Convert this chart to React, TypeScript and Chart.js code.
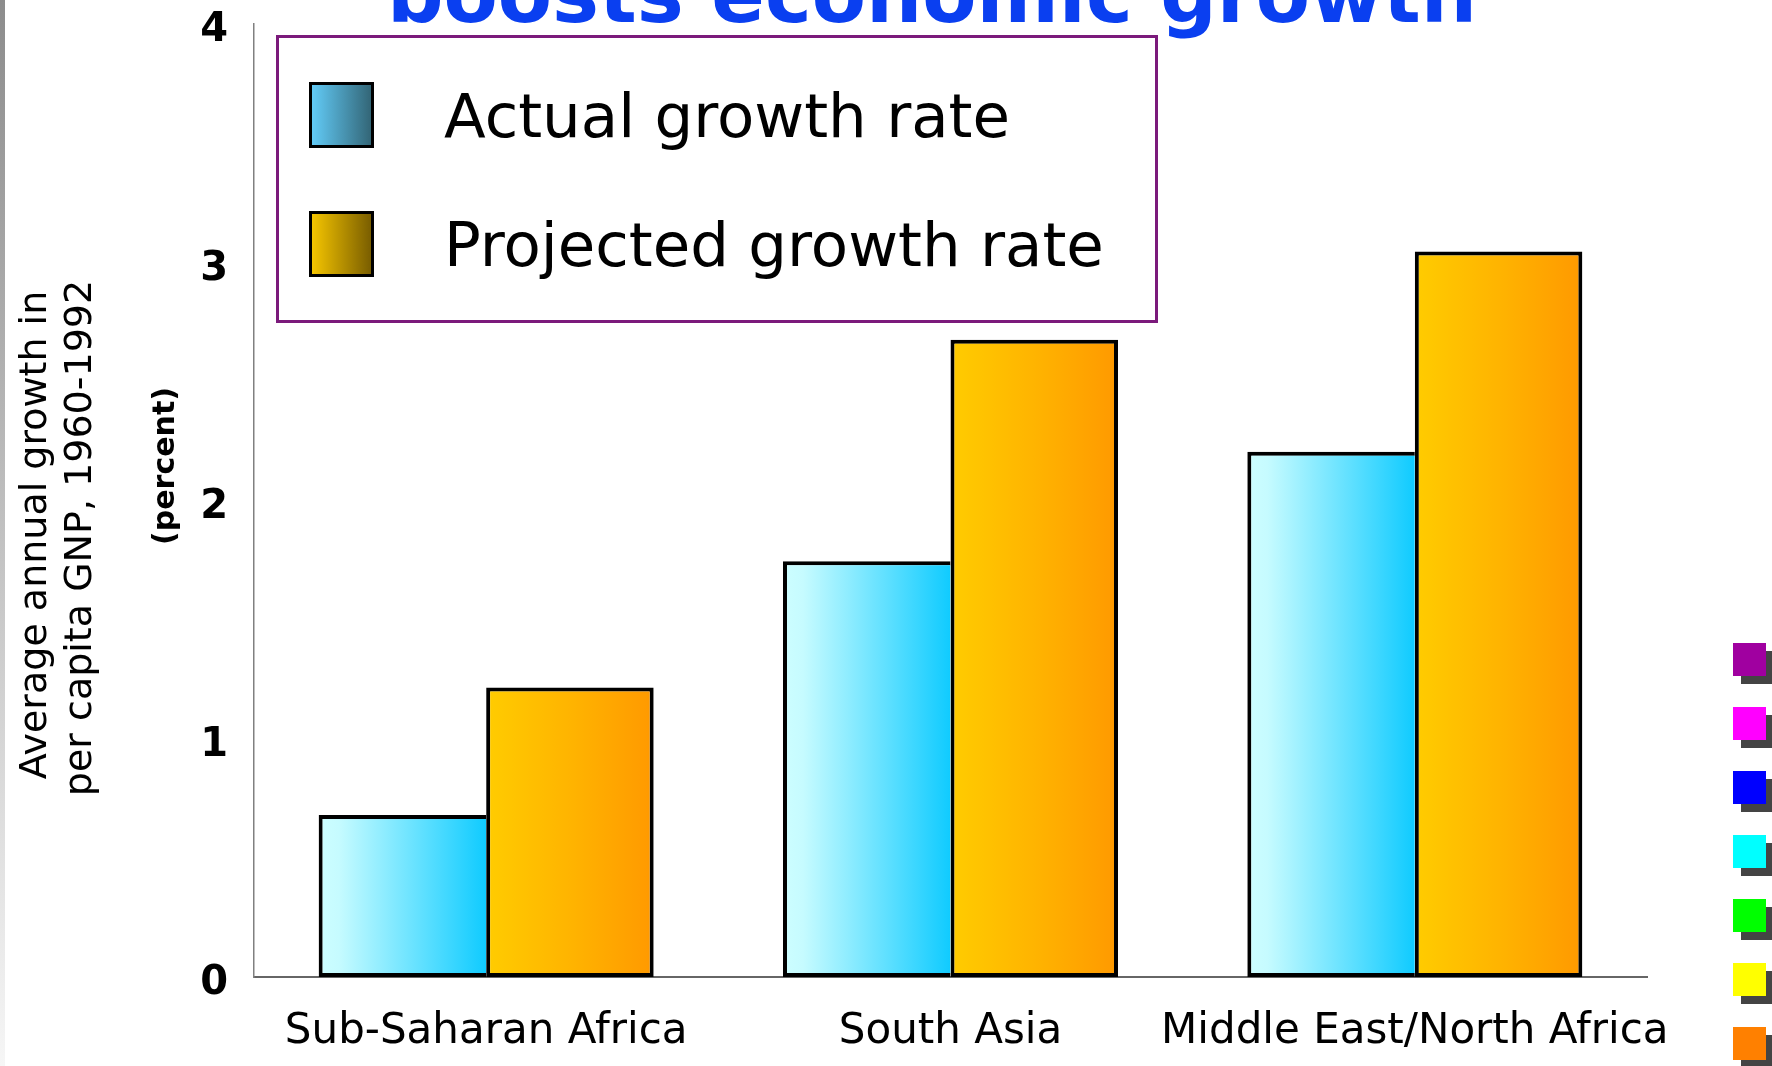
import React, { useEffect, useRef } from "react";
import { Chart, registerables } from "chart.js";

Chart.register(...registerables);

// ---------- data ----------
const categories = ["Sub-Saharan Africa", "South Asia", "Middle East/North Africa"];
const actualGrowth = [0.68, 1.745, 2.205];
const projectedGrowth = [1.215, 2.675, 3.045];
const seriesLabels = ["Actual growth rate", "Projected growth rate"];
const yMin = 0;
const yMax = 4;
const yStep = 1;
const yTitleLines = ["Average annual growth in", "per capita GNP, 1960-1992"];
const yUnitLabel = "(percent)";
const titleText = "boosts economic growth";

// ---------- styles ----------
const FONT = "'DejaVu Sans', 'Noto Sans', sans-serif";
const barStops = [
  ["#cdfeff", "#c6fbff", "#10cbff"],
  ["#ffcc00", "#ffb400", "#ff9900"],
];
const swatchStops = [
  ["#62cbf7", "#336677"],
  ["#f5c500", "#7a5e00"],
];
const decoColors = ["#a000a0", "#ff00ff", "#0000ff", "#00ffff", "#00ff00", "#ffff00", "#ff8000"];

const gradientPlugin = {
  id: "barGradient",
  beforeDatasetsDraw(chart: any) {
    const ctx = chart.ctx;
    chart.data.datasets.forEach((_ds: any, di: number) => {
      const meta = chart.getDatasetMeta(di);
      const stops = barStops[di];
      meta.data.forEach((el: any) => {
        const { x, width } = el.getProps(["x", "width"], true);
        const g = ctx.createLinearGradient(x - width / 2, 0, x + width / 2, 0);
        g.addColorStop(0, stops[0]);
        g.addColorStop(di === 0 ? 0.12 : 0.5, stops[1]);
        g.addColorStop(1, stops[2]);
        el.options = { ...el.options, backgroundColor: g };
      });
    });
  },
};

const yTitlePlugin = {
  id: "yTitleCustom",
  afterDraw(chart: any) {
    const ctx = chart.ctx;
    ctx.save();
    ctx.fillStyle = "#000";
    ctx.textAlign = "center";
    ctx.textBaseline = "alphabetic";
    const place = [
      { x: 46, y: 535, font: `38px ${FONT}` },
      { x: 91, y: 538, font: `38px ${FONT}` },
    ];
    yTitleLines.forEach((line, i) => {
      ctx.save();
      ctx.translate(place[i].x, place[i].y);
      ctx.rotate(-Math.PI / 2);
      ctx.font = place[i].font;
      ctx.fillText(line, 0, 0);
      ctx.restore();
    });
    ctx.save();
    ctx.translate(174, 466);
    ctx.rotate(-Math.PI / 2);
    ctx.font = `bold 30px ${FONT}`;
    ctx.fillText(yUnitLabel, 0, 0);
    ctx.restore();
    ctx.restore();
  },
};

export default function App() {
  const canvasRef = useRef<HTMLCanvasElement | null>(null);

  useEffect(() => {
    const canvas = canvasRef.current;
    if (!canvas) return;
    const chart = new Chart(canvas, {
      type: "bar",
      data: {
        labels: categories,
        datasets: [
          {
            label: seriesLabels[0],
            data: actualGrowth,
            backgroundColor: "#10ccff",
            borderColor: "#000",
            borderWidth: 4,
            borderSkipped: "right",
            categoryPercentage: 0.7215,
            barPercentage: 1,
          },
          {
            label: seriesLabels[1],
            data: projectedGrowth,
            backgroundColor: "#ffb300",
            borderColor: "#000",
            borderWidth: 4,
            borderSkipped: false,
            categoryPercentage: 0.7215,
            barPercentage: 1,
          },
        ],
      },
      options: {
        responsive: false,
        animation: false,
        layout: { padding: { top: 24, right: 125, left: 0, bottom: 0 } },
        plugins: {
          legend: { display: false },
          title: { display: false },
          tooltip: { enabled: false },
        },
        scales: {
          x: {
            grid: { display: false, drawTicks: false },
            border: { display: true, color: "#666", width: 2 },
            ticks: {
              color: "#000",
              font: { family: FONT, size: 42 },
              padding: 30,
              maxRotation: 0,
              autoSkip: false,
            },
            afterFit: (s: any) => {
              s.height = 89;
              s.paddingLeft = 0;
              s.paddingRight = 0;
            },
          },
          y: {
            min: yMin,
            max: yMax,
            ticks: {
              stepSize: yStep,
              color: "#000",
              font: { family: FONT, size: 40, weight: "bold" },
              padding: 26,
              labelOffset: 7,
            },
            grid: { display: false, drawTicks: false },
            border: { display: true, color: "#808080", width: 1.5 },
            afterFit: (s: any) => {
              s.width = 254;
              s.paddingTop = 0;
              s.paddingBottom = 0;
            },
          },
        },
      },
      plugins: [gradientPlugin, yTitlePlugin],
    } as any);
    return () => chart.destroy();
  }, []);

  return (
    <div
      style={{
        position: "absolute",
        left: 0,
        top: 0,
        width: 1772,
        height: 1066,
        overflow: "hidden",
        background: "#fff",
        fontFamily: FONT,
      }}
    >
      <div
        style={{
          position: "absolute",
          left: 0,
          top: 0,
          width: 5,
          height: 1066,
          background: "linear-gradient(to bottom, #8c8c8c, #f6f6f6)",
        }}
      />
      <canvas
        ref={canvasRef}
        width={1772}
        height={1066}
        style={{ position: "absolute", left: 0, top: 0, width: 1772, height: 1066 }}
      />
      <div
        style={{
          position: "absolute",
          left: 932,
          top: -44,
          transform: "translateX(-50%)",
          whiteSpace: "nowrap",
          fontSize: 79,
          lineHeight: "79px",
          fontWeight: "bold",
          color: "#0a3ff0",
        }}
      >
        {titleText}
      </div>
      <div
        style={{
          position: "absolute",
          left: 276,
          top: 35,
          width: 876,
          height: 282,
          border: "3px solid #7b1a7b",
          background: "#fff",
        }}
      >
        {seriesLabels.map((lab, i) => (
          <div
            key={lab}
            style={{
              position: "absolute",
              left: 30,
              top: i === 0 ? 44 : 173,
              height: 66,
              display: "flex",
              alignItems: "center",
              whiteSpace: "nowrap",
            }}
          >
            <div
              style={{
                width: 59,
                height: 60,
                border: "3px solid #000",
                background: `linear-gradient(to right, ${swatchStops[i][0]}, ${swatchStops[i][1]})`,
              }}
            />
            <span style={{ marginLeft: 70, fontSize: 61, color: "#000" }}>{lab}</span>
          </div>
        ))}
      </div>
      {decoColors.map((c, i) => (
        <div
          key={c}
          style={{
            position: "absolute",
            left: 1733,
            top: 643 + 64 * i,
            width: 33,
            height: 33,
            background: c,
            boxShadow: "8px 8px 0 #444",
          }}
        />
      ))}
    </div>
  );
}
